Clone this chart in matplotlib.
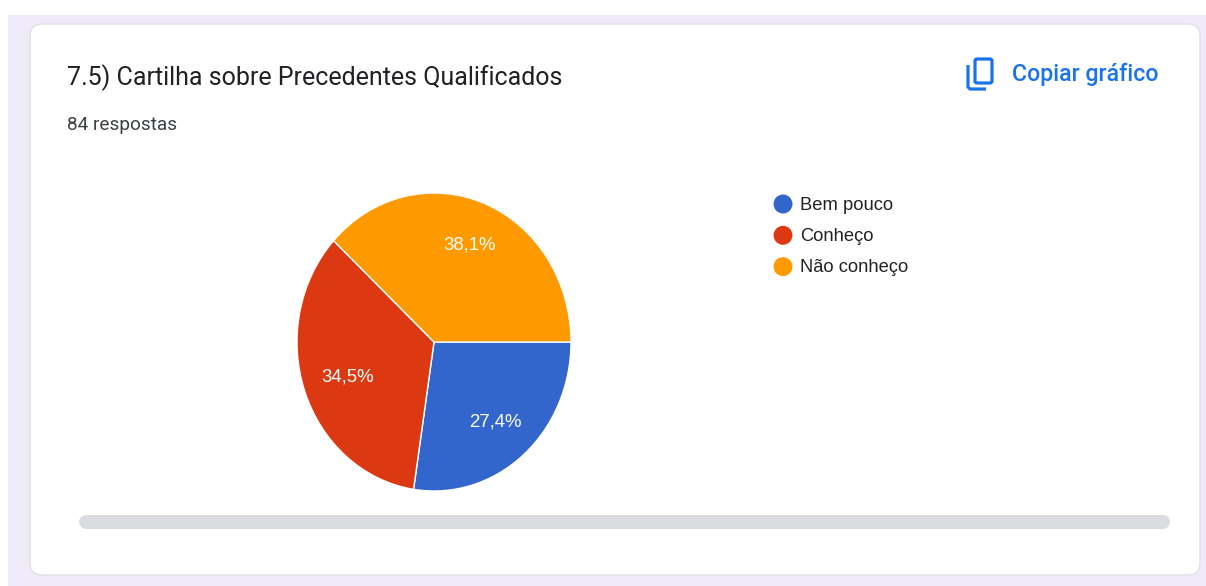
#!/usr/bin/env python3
# -*- coding: utf-8 -*-
import matplotlib
matplotlib.use('Agg')
import matplotlib.pyplot as plt
from matplotlib.patches import FancyBboxPatch, Rectangle

W = 1206
H = 586

title = '7.5) Cartilha sobre Precedentes Qualificados'
subtitle = '84 respostas'
copy_label = 'Copiar gráfico'
categories = ['Bem pouco', 'Conheço', 'Não conheço']
counts = [23, 29, 32]
colors = ['#3366CC', '#DC3912', '#FF9900']


def pct_label(p):
    return '{:.1f}%'.format(p).replace('.', ',')
# end pct_label


def rounded(ax, x0, y0, x1, y1, r, **kw):
    p = FancyBboxPatch((x0 + r, y0 + r), x1 - x0 - 2 * r, y1 - y0 - 2 * r,
                       boxstyle='round,pad={},rounding_size={}'.format(r, r), **kw)
    ax.add_patch(p)
    return p
# end rounded


fig = plt.figure(figsize=(W / 100, H / 100), dpi=100, facecolor='white')

# background layer in pixel coords, y pointing down
bg = fig.add_axes([0, 0, 1, 1])
bg.set_xlim(0, W)
bg.set_ylim(H, 0)
bg.axis('off')
bg.add_patch(Rectangle((8, 15), W - 8, H - 15, fc='#EFEBF8', ec='none'))
rounded(bg, 30, 24, 1200, 575, 12, fc='white', ec='#E0DFE6', lw=1.0)
# scrollbar, 14 px thick
bg.plot([85.5, 1162.5], [521.5, 521.5], color='#DADCE0', lw=14 * 0.72, solid_capstyle='round')

bg.text(67, 78, title, fontsize=17.97, family='Roboto', color='#202124', va='center', ha='left')
bg.text(67, 125, subtitle, fontsize=13.7, family='Roboto', color='#3C4043', va='center', ha='left')
bg.text(1158, 74, copy_label, fontsize=16.7, family='Roboto', color='#1A73E8', va='center',
        ha='right', fontweight='medium')

# copy icon
rounded(bg, 975, 59, 992, 83, 2, fc='none', ec='#1A73E8', lw=2.3)
bg.plot([968, 968, 970, 986], [65, 87, 89, 89], color='#1A73E8', lw=2.3, solid_capstyle='butt')

# legend
for i, cat in enumerate(categories):
    y = 204 + i * 31.3
    bg.scatter([783], [y], s=186, color=colors[i], edgecolors='none')
    bg.text(800, y + 1, cat, fontsize=13.2, family='Liberation Sans', color='#222222', va='center', ha='left')

# pie, slightly wider in height as in the screenshot
cx, cy, rx, ry = 434, 342, 137, 149
ax = fig.add_axes([(cx - rx) / W, 1 - (cy + ry) / H, 2 * rx / W, 2 * ry / H])
wedges, texts, autotexts = ax.pie(counts, colors=colors, startangle=0, counterclock=False,
                                  autopct=pct_label, pctdistance=0.7, radius=1.0,
                                  wedgeprops={'edgecolor': 'white', 'linewidth': 1.0},
                                  textprops={'fontsize': 13.4, 'family': 'Liberation Sans', 'color': 'white'})
ax.set_xlim(-1, 1)
ax.set_ylim(-1, 1)
ax.set_aspect('auto')
for w in wedges:
    w.set_clip_on(False)

# nudge the labels onto the reference spots (pixels)
nudges = [(-1, -1), (4, -1), (0, 0)]
for t, (dx, dy) in zip(autotexts, nudges):
    x, y = t.get_position()
    t.set_position((x + dx / rx, y + dy / ry))

fig.savefig('out.png', dpi=100, facecolor='white')
